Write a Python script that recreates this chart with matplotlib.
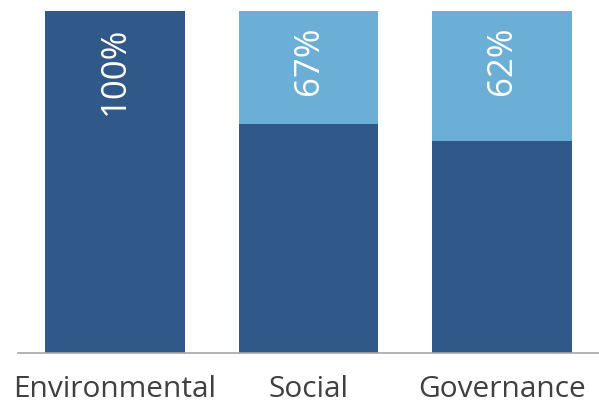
import numpy as np
import matplotlib.pyplot as plt

categories = ['Environmental', 'Social', 'Governance']
dark_vals = [100, 67, 62]
light_vals = [0, 33, 38]
labels = ['100%', '67%', '62%']

dark = '#30598A'
light = '#6BAFD7'

plt.rcParams['font.family'] = ['Open Sans', 'DejaVu Sans']

fig = plt.figure(figsize=(5.99, 4.05), dpi=100)
ax = fig.add_axes([18/599, 1 - 353/405, 581/599, 342/405])

x = np.arange(len(categories))
ax.bar(x, dark_vals, width=0.72, color=dark)
ax.bar(x, light_vals, width=0.72, bottom=dark_vals, color=light)

for i, lab in enumerate(labels):
    ax.text(x[i], 95.5, lab, rotation=90, ha='center', va='top',
            color='white', fontsize=25)

ax.set_xlim(-0.5, 2.5)
ax.set_ylim(0, 100)
ax.set_xticks(x)
ax.set_xticklabels(categories, fontsize=21.5, color='#404040')
ax.tick_params(axis='x', length=0, pad=16)
ax.set_yticks([])
for s in ['top', 'right', 'left']:
    ax.spines[s].set_visible(False)
ax.spines['bottom'].set_color('#A6A6A6')
ax.spines['bottom'].set_linewidth(1.2)

fig.savefig('out.png', dpi=100)
